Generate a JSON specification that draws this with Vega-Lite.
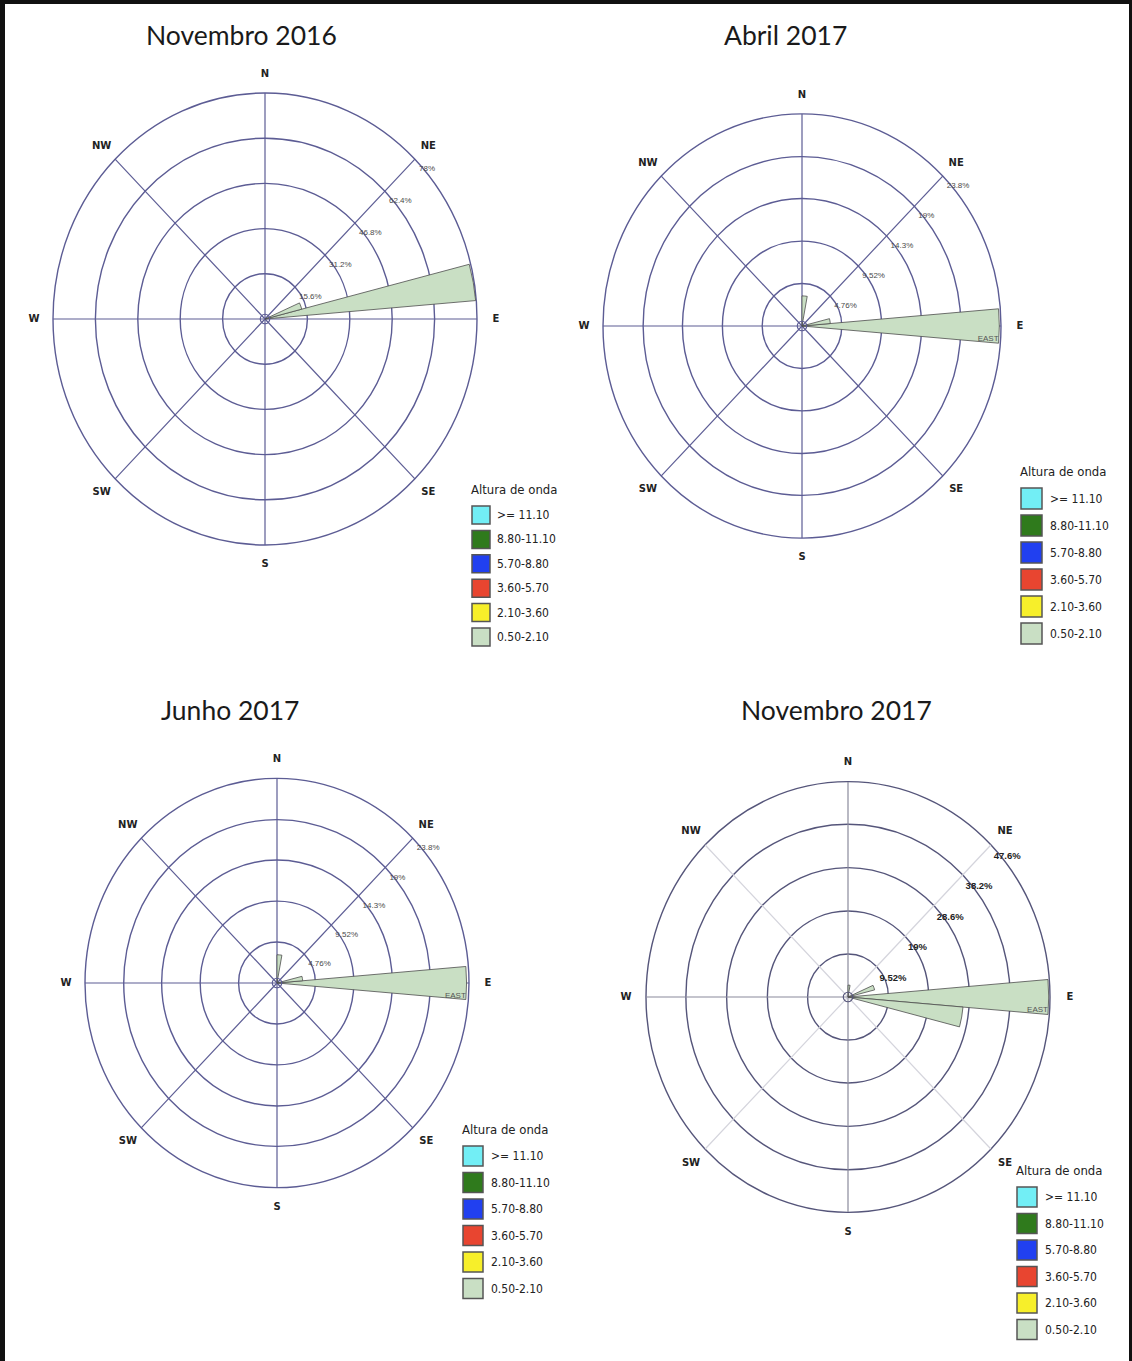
{
  "$schema": "https://vega.github.io/schema/vega-lite/v6.json",
  "background": "#111111",
  "padding": {"left": 5, "top": 4, "right": 3, "bottom": 0},
  "bounds": "flush",
  "spacing": 0,
  "columns": 2,
  "config": {
    "view": {"fill": "white", "stroke": null},
    "axis": {"disable": true}
  },
  "resolve": {
    "scale": {"color": "independent", "size": "independent", "theta": "independent", "radius": "independent"},
    "legend": {"color": "independent"}
  },
  "datasets": {
    "rosa": [
      {"dir": "N", "graus": 0, "ex": 0, "ey": 1},
      {"dir": "NE", "graus": 45, "ex": 0.7071, "ey": 0.7071},
      {"dir": "E", "graus": 90, "ex": 1, "ey": 0},
      {"dir": "SE", "graus": 135, "ex": 0.7071, "ey": -0.7071},
      {"dir": "S", "graus": 180, "ex": 0, "ey": -1},
      {"dir": "SW", "graus": 225, "ex": -0.7071, "ey": -0.7071},
      {"dir": "W", "graus": 270, "ex": -1, "ey": 0},
      {"dir": "NW", "graus": 315, "ex": -0.7071, "ey": 0.7071}
    ],
    "aneis_nov16": [
      {"anel": 15.6, "rotulo": "15.6%"},
      {"anel": 31.2, "rotulo": "31.2%"},
      {"anel": 46.8, "rotulo": "46.8%"},
      {"anel": 62.4, "rotulo": "62.4%"},
      {"anel": 78, "rotulo": "78%"}
    ],
    "aneis_abr_jun17": [
      {"anel": 4.76, "rotulo": "4.76%"},
      {"anel": 9.52, "rotulo": "9.52%"},
      {"anel": 14.3, "rotulo": "14.3%"},
      {"anel": 19, "rotulo": "19%"},
      {"anel": 23.8, "rotulo": "23.8%"}
    ],
    "aneis_nov17": [
      {"anel": 9.52, "rotulo": "9.52%"},
      {"anel": 19, "rotulo": "19%"},
      {"anel": 28.6, "rotulo": "28.6%"},
      {"anel": 38.2, "rotulo": "38.2%"},
      {"anel": 47.6, "rotulo": "47.6%"}
    ],
    "ondas_nov16": [
      {"de": 75, "ate": 85, "pct": 77.8, "classe": "0.50-2.10"},
      {"de": 65, "ate": 75, "pct": 14, "classe": "0.50-2.10"}
    ],
    "ondas_abr17": [
      {"de": 85, "ate": 95, "pct": 23.6, "classe": "0.50-2.10", "nome": "EAST"},
      {"de": 0, "ate": 10, "pct": 3.6, "classe": "0.50-2.10"},
      {"de": 75, "ate": 85, "pct": 3.4, "classe": "0.50-2.10"}
    ],
    "ondas_jun17": [
      {"de": 85, "ate": 95, "pct": 23.5, "classe": "0.50-2.10", "nome": "EAST"},
      {"de": 0, "ate": 10, "pct": 3.5, "classe": "0.50-2.10"},
      {"de": 75, "ate": 85, "pct": 3.2, "classe": "0.50-2.10"}
    ],
    "ondas_nov17": [
      {"de": 85, "ate": 95, "pct": 47.3, "classe": "0.50-2.10", "nome": "EAST"},
      {"de": 95, "ate": 105, "pct": 27.2, "classe": "0.50-2.10"},
      {"de": 65, "ate": 75, "pct": 6.5, "classe": "0.50-2.10"},
      {"de": 0, "ate": 10, "pct": 2.8, "classe": "0.50-2.10"}
    ]
  },
  "concat": [
    {
      "width": 563,
      "height": 676,
      "title": {"text": "Novembro 2016", "anchor": "start", "frame": "group", "offset": 0, "dx": 141, "dy": 67, "baseline": "alphabetic", "font": "Lato", "fontSize": 26.5, "fontWeight": "normal", "color": "#1a1a1a"},
      "resolve": {"scale": {"radius": "independent"}},
      "layer": [
        {
          "data": {"name": "aneis_nov16"},
          "mark": {"type": "point", "shape": "M1,0C1,0.5888,0.5523,1.066,0,1.066C-0.5523,1.066,-1,0.5888,-1,0C-1,-0.5888,-0.5523,-1.066,0,-1.066C0.5523,-1.066,1,-0.5888,1,0Z", "filled": false, "stroke": "#5c5c94", "strokeWidth": 1.4, "opacity": 1},
          "encoding": {
            "x": {"datum": 0, "type": "quantitative", "scale": {"domain": [-1, 1], "range": [48, 472], "nice": false, "zero": false}, "axis": null},
            "y": {"datum": 0, "type": "quantitative", "scale": {"domain": [-1, 1], "range": [541, 89], "nice": false, "zero": false}, "axis": null},
            "size": {"field": "anel", "type": "quantitative", "scale": {"type": "pow", "exponent": 2, "domain": [0, 78], "range": [0, 179776]}, "legend": null}
          }
        },
        {
          "data": {"name": "rosa"},
          "mark": {"type": "rule", "stroke": "#5c5c94", "strokeWidth": 1.2},
          "encoding": {
            "x": {"field": "ex", "type": "quantitative"},
            "y": {"field": "ey", "type": "quantitative"},
            "x2": {"datum": 0},
            "y2": {"datum": 0}
          }
        },
        {
          "data": {"name": "ondas_nov16"},
          "mark": {"type": "arc", "stroke": "#4d4d4d", "strokeWidth": 0.8},
          "encoding": {
            "x": {"datum": 0, "type": "quantitative"},
            "y": {"datum": 0, "type": "quantitative"},
            "theta": {"field": "de", "type": "quantitative", "stack": null, "scale": {"domain": [0, 360], "range": [0, 6.283185307]}},
            "theta2": {"field": "ate"},
            "radius": {"field": "pct", "type": "quantitative", "scale": {"type": "linear", "zero": true, "domain": [0, 78], "range": [0, 212]}},
            "color": {
              "field": "classe", "type": "nominal",
              "scale": {"domain": [">=  11.10", "8.80-11.10", "5.70-8.80", "3.60-5.70", "2.10-3.60", "0.50-2.10"], "range": ["#72eef5", "#2f7a1c", "#2140f0", "#e84530", "#f7ef2a", "#c9dfc4"]},
              "legend": {"orient": "none", "legendX": 466, "legendY": 480, "title": "Altura de onda", "titleFont": "Liberation Sans Narrow, DejaVu Sans Condensed, sans-serif", "titleFontSize": 13, "titleFontWeight": "normal", "titleColor": "#222", "titlePadding": 8, "titleLimit": 300, "symbolType": "square", "symbolSize": 324, "symbolStrokeColor": "#555", "symbolStrokeWidth": 1.5, "labelFont": "Liberation Sans Narrow, DejaVu Sans Condensed, sans-serif", "labelFontSize": 12, "labelColor": "#222", "labelOffset": 6, "rowPadding": 0.4, "padding": 0}
            }
          }
        },
        {
          "data": {"values": [{"calmo": 0}]},
          "mark": {"type": "point", "shape": "circle", "filled": false, "size": 90, "stroke": "#5c5c94", "strokeWidth": 1.2, "opacity": 1},
          "encoding": {"x": {"datum": 0, "type": "quantitative"}, "y": {"datum": 0, "type": "quantitative"}}
        },
        {
          "data": {"name": "rosa"},
          "mark": {"type": "text", "radius": 19, "font": "DejaVu Sans", "fontSize": 10, "fontWeight": "bold", "fill": "#222"},
          "encoding": {
            "x": {"field": "ex", "type": "quantitative"},
            "y": {"field": "ey", "type": "quantitative"},
            "theta": {"field": "graus", "type": "quantitative", "scale": {"domain": [0, 360], "range": [0, 6.283185307]}},
            "text": {"field": "dir"}
          }
        },
        {
          "data": {"name": "aneis_nov16"},
          "mark": {"type": "text", "align": "left", "baseline": "middle", "dx": 4, "dy": 10, "font": "Liberation Sans", "fontSize": 8, "fill": "#4a4a4a"},
          "encoding": {
            "x": {"datum": 0, "type": "quantitative"},
            "y": {"datum": 0, "type": "quantitative"},
            "theta": {"datum": 43.2, "type": "quantitative", "scale": {"domain": [0, 360], "range": [0, 6.283185307]}},
            "radius": {"field": "anel", "type": "quantitative", "scale": {"type": "linear", "zero": true, "domain": [0, 78], "range": [0, 219.1]}},
            "text": {"field": "rotulo"}
          }
        }
      ]
    },
    {
      "width": 561,
      "height": 676,
      "title": {"text": "Abril 2017", "anchor": "start", "frame": "group", "offset": 0, "dx": 156, "dy": 67, "baseline": "alphabetic", "font": "Lato", "fontSize": 26.5, "fontWeight": "normal", "color": "#1a1a1a"},
      "resolve": {"scale": {"radius": "independent"}},
      "layer": [
        {
          "data": {"name": "aneis_abr_jun17"},
          "mark": {"type": "point", "shape": "M1,0C1,0.5888,0.5523,1.066,0,1.066C-0.5523,1.066,-1,0.5888,-1,0C-1,-0.5888,-0.5523,-1.066,0,-1.066C0.5523,-1.066,1,-0.5888,1,0Z", "filled": false, "stroke": "#5c5c94", "strokeWidth": 1.4, "opacity": 1},
          "encoding": {
            "x": {"datum": 0, "type": "quantitative", "scale": {"domain": [-1, 1], "range": [35, 433], "nice": false, "zero": false}, "axis": null},
            "y": {"datum": 0, "type": "quantitative", "scale": {"domain": [-1, 1], "range": [534, 110], "nice": false, "zero": false}, "axis": null},
            "size": {"field": "anel", "type": "quantitative", "scale": {"type": "pow", "exponent": 2, "domain": [0, 23.8], "range": [0, 158404]}, "legend": null}
          }
        },
        {
          "data": {"name": "rosa"},
          "mark": {"type": "rule", "stroke": "#5c5c94", "strokeWidth": 1.2},
          "encoding": {
            "x": {"field": "ex", "type": "quantitative"},
            "y": {"field": "ey", "type": "quantitative"},
            "x2": {"datum": 0},
            "y2": {"datum": 0}
          }
        },
        {
          "data": {"name": "ondas_abr17"},
          "mark": {"type": "arc", "stroke": "#4d4d4d", "strokeWidth": 0.8},
          "encoding": {
            "x": {"datum": 0, "type": "quantitative"},
            "y": {"datum": 0, "type": "quantitative"},
            "theta": {"field": "de", "type": "quantitative", "stack": null, "scale": {"domain": [0, 360], "range": [0, 6.283185307]}},
            "theta2": {"field": "ate"},
            "radius": {"field": "pct", "type": "quantitative", "scale": {"type": "linear", "zero": true, "domain": [0, 23.8], "range": [0, 199]}},
            "color": {
              "field": "classe", "type": "nominal",
              "scale": {"domain": [">=  11.10", "8.80-11.10", "5.70-8.80", "3.60-5.70", "2.10-3.60", "0.50-2.10"], "range": ["#72eef5", "#2f7a1c", "#2140f0", "#e84530", "#f7ef2a", "#c9dfc4"]},
              "legend": {"orient": "none", "legendX": 452, "legendY": 462, "title": "Altura de onda", "titleFont": "Liberation Sans Narrow, DejaVu Sans Condensed, sans-serif", "titleFontSize": 13, "titleFontWeight": "normal", "titleColor": "#222", "titlePadding": 8, "titleLimit": 300, "symbolType": "square", "symbolSize": 441, "symbolStrokeColor": "#555", "symbolStrokeWidth": 1.5, "labelFont": "Liberation Sans Narrow, DejaVu Sans Condensed, sans-serif", "labelFontSize": 12, "labelColor": "#222", "labelOffset": 7, "rowPadding": 0, "padding": 0}
            }
          }
        },
        {
          "data": {"name": "ondas_abr17"},
          "transform": [{"filter": "datum.nome != null"}],
          "mark": {"type": "text", "align": "right", "baseline": "bottom", "font": "Liberation Sans", "fontSize": 8, "fill": "#555"},
          "encoding": {
            "x": {"datum": 0, "type": "quantitative"},
            "y": {"datum": 0, "type": "quantitative"},
            "theta": {"field": "ate", "type": "quantitative", "scale": {"domain": [0, 360], "range": [0, 6.283185307]}},
            "radius": {"field": "pct", "type": "quantitative", "scale": {"type": "linear", "zero": true, "domain": [0, 23.8], "range": [0, 199]}},
            "text": {"field": "nome"}
          }
        },
        {
          "data": {"values": [{"calmo": 0}]},
          "mark": {"type": "point", "shape": "circle", "filled": false, "size": 90, "stroke": "#5c5c94", "strokeWidth": 1.2, "opacity": 1},
          "encoding": {"x": {"datum": 0, "type": "quantitative"}, "y": {"datum": 0, "type": "quantitative"}}
        },
        {
          "data": {"name": "rosa"},
          "mark": {"type": "text", "radius": 19, "font": "DejaVu Sans", "fontSize": 10, "fontWeight": "bold", "fill": "#222"},
          "encoding": {
            "x": {"field": "ex", "type": "quantitative"},
            "y": {"field": "ey", "type": "quantitative"},
            "theta": {"field": "graus", "type": "quantitative", "scale": {"domain": [0, 360], "range": [0, 6.283185307]}},
            "text": {"field": "dir"}
          }
        },
        {
          "data": {"name": "aneis_abr_jun17"},
          "mark": {"type": "text", "align": "left", "baseline": "middle", "dx": 4, "dy": 10, "font": "Liberation Sans", "fontSize": 8, "fill": "#4a4a4a"},
          "encoding": {
            "x": {"datum": 0, "type": "quantitative"},
            "y": {"datum": 0, "type": "quantitative"},
            "theta": {"datum": 43.2, "type": "quantitative", "scale": {"domain": [0, 360], "range": [0, 6.283185307]}},
            "radius": {"field": "anel", "type": "quantitative", "scale": {"type": "linear", "zero": true, "domain": [0, 23.8], "range": [0, 205.6]}},
            "text": {"field": "rotulo"}
          }
        }
      ]
    },
    {
      "width": 563,
      "height": 681,
      "title": {"text": "Junho 2017", "anchor": "start", "frame": "group", "offset": 0, "dx": 156, "dy": 66, "baseline": "alphabetic", "font": "Lato", "fontSize": 26.5, "fontWeight": "normal", "color": "#1a1a1a"},
      "resolve": {"scale": {"radius": "independent"}},
      "layer": [
        {
          "data": {"name": "aneis_abr_jun17"},
          "mark": {"type": "point", "shape": "M1,0C1,0.5888,0.5523,1.066,0,1.066C-0.5523,1.066,-1,0.5888,-1,0C-1,-0.5888,-0.5523,-1.066,0,-1.066C0.5523,-1.066,1,-0.5888,1,0Z", "filled": false, "stroke": "#5c5c94", "strokeWidth": 1.4, "opacity": 1},
          "encoding": {
            "x": {"datum": 0, "type": "quantitative", "scale": {"domain": [-1, 1], "range": [80, 464], "nice": false, "zero": false}, "axis": null},
            "y": {"datum": 0, "type": "quantitative", "scale": {"domain": [-1, 1], "range": [508, 98], "nice": false, "zero": false}, "axis": null},
            "size": {"field": "anel", "type": "quantitative", "scale": {"type": "pow", "exponent": 2, "domain": [0, 23.8], "range": [0, 147456]}, "legend": null}
          }
        },
        {
          "data": {"name": "rosa"},
          "mark": {"type": "rule", "stroke": "#5c5c94", "strokeWidth": 1.2},
          "encoding": {
            "x": {"field": "ex", "type": "quantitative"},
            "y": {"field": "ey", "type": "quantitative"},
            "x2": {"datum": 0},
            "y2": {"datum": 0}
          }
        },
        {
          "data": {"name": "ondas_jun17"},
          "mark": {"type": "arc", "stroke": "#4d4d4d", "strokeWidth": 0.8},
          "encoding": {
            "x": {"datum": 0, "type": "quantitative"},
            "y": {"datum": 0, "type": "quantitative"},
            "theta": {"field": "de", "type": "quantitative", "stack": null, "scale": {"domain": [0, 360], "range": [0, 6.283185307]}},
            "theta2": {"field": "ate"},
            "radius": {"field": "pct", "type": "quantitative", "scale": {"type": "linear", "zero": true, "domain": [0, 23.8], "range": [0, 192]}},
            "color": {
              "field": "classe", "type": "nominal",
              "scale": {"domain": [">=  11.10", "8.80-11.10", "5.70-8.80", "3.60-5.70", "2.10-3.60", "0.50-2.10"], "range": ["#72eef5", "#2f7a1c", "#2140f0", "#e84530", "#f7ef2a", "#c9dfc4"]},
              "legend": {"orient": "none", "legendX": 457, "legendY": 444, "title": "Altura de onda", "titleFont": "Liberation Sans Narrow, DejaVu Sans Condensed, sans-serif", "titleFontSize": 13, "titleFontWeight": "normal", "titleColor": "#222", "titlePadding": 8, "titleLimit": 300, "symbolType": "square", "symbolSize": 400, "symbolStrokeColor": "#555", "symbolStrokeWidth": 1.5, "labelFont": "Liberation Sans Narrow, DejaVu Sans Condensed, sans-serif", "labelFontSize": 12, "labelColor": "#222", "labelOffset": 7, "rowPadding": 0.5, "padding": 0}
            }
          }
        },
        {
          "data": {"name": "ondas_jun17"},
          "transform": [{"filter": "datum.nome != null"}],
          "mark": {"type": "text", "align": "right", "baseline": "bottom", "font": "Liberation Sans", "fontSize": 8, "fill": "#555"},
          "encoding": {
            "x": {"datum": 0, "type": "quantitative"},
            "y": {"datum": 0, "type": "quantitative"},
            "theta": {"field": "ate", "type": "quantitative", "scale": {"domain": [0, 360], "range": [0, 6.283185307]}},
            "radius": {"field": "pct", "type": "quantitative", "scale": {"type": "linear", "zero": true, "domain": [0, 23.8], "range": [0, 192]}},
            "text": {"field": "nome"}
          }
        },
        {
          "data": {"values": [{"calmo": 0}]},
          "mark": {"type": "point", "shape": "circle", "filled": false, "size": 90, "stroke": "#5c5c94", "strokeWidth": 1.2, "opacity": 1},
          "encoding": {"x": {"datum": 0, "type": "quantitative"}, "y": {"datum": 0, "type": "quantitative"}}
        },
        {
          "data": {"name": "rosa"},
          "mark": {"type": "text", "radius": 19, "font": "DejaVu Sans", "fontSize": 10, "fontWeight": "bold", "fill": "#222"},
          "encoding": {
            "x": {"field": "ex", "type": "quantitative"},
            "y": {"field": "ey", "type": "quantitative"},
            "theta": {"field": "graus", "type": "quantitative", "scale": {"domain": [0, 360], "range": [0, 6.283185307]}},
            "text": {"field": "dir"}
          }
        },
        {
          "data": {"name": "aneis_abr_jun17"},
          "mark": {"type": "text", "align": "left", "baseline": "middle", "dx": 4, "dy": 10, "font": "Liberation Sans", "fontSize": 8, "fill": "#4a4a4a"},
          "encoding": {
            "x": {"datum": 0, "type": "quantitative"},
            "y": {"datum": 0, "type": "quantitative"},
            "theta": {"datum": 43.2, "type": "quantitative", "scale": {"domain": [0, 360], "range": [0, 6.283185307]}},
            "radius": {"field": "anel", "type": "quantitative", "scale": {"type": "linear", "zero": true, "domain": [0, 23.8], "range": [0, 198.4]}},
            "text": {"field": "rotulo"}
          }
        }
      ]
    },
    {
      "width": 561,
      "height": 681,
      "title": {"text": "Novembro 2017", "anchor": "start", "frame": "group", "offset": 0, "dx": 173, "dy": 66, "baseline": "alphabetic", "font": "Lato", "fontSize": 26.5, "fontWeight": "normal", "color": "#1a1a1a"},
      "resolve": {"scale": {"radius": "independent"}},
      "layer": [
        {
          "data": {"name": "aneis_nov17"},
          "mark": {"type": "point", "shape": "M1,0C1,0.5888,0.5523,1.066,0,1.066C-0.5523,1.066,-1,0.5888,-1,0C-1,-0.5888,-0.5523,-1.066,0,-1.066C0.5523,-1.066,1,-0.5888,1,0Z", "filled": false, "stroke": "#55557a", "strokeWidth": 1.4, "opacity": 1},
          "encoding": {
            "x": {"datum": 0, "type": "quantitative", "scale": {"domain": [-1, 1], "range": [78, 482], "nice": false, "zero": false}, "axis": null},
            "y": {"datum": 0, "type": "quantitative", "scale": {"domain": [-1, 1], "range": [532, 102], "nice": false, "zero": false}, "axis": null},
            "size": {"field": "anel", "type": "quantitative", "scale": {"type": "pow", "exponent": 2, "domain": [0, 47.6], "range": [0, 163216]}, "legend": null}
          }
        },
        {
          "data": {"name": "rosa"},
          "transform": [{"filter": "datum.graus % 90 != 0"}],
          "mark": {"type": "rule", "stroke": "#d4d4dc", "strokeWidth": 1.2},
          "encoding": {
            "x": {"field": "ex", "type": "quantitative"},
            "y": {"field": "ey", "type": "quantitative"},
            "x2": {"datum": 0},
            "y2": {"datum": 0}
          }
        },
        {
          "data": {"name": "rosa"},
          "transform": [{"filter": "datum.graus % 90 == 0"}],
          "mark": {"type": "rule", "stroke": "#8a8a9c", "strokeWidth": 1.2},
          "encoding": {
            "x": {"field": "ex", "type": "quantitative"},
            "y": {"field": "ey", "type": "quantitative"},
            "x2": {"datum": 0},
            "y2": {"datum": 0}
          }
        },
        {
          "data": {"name": "ondas_nov17"},
          "mark": {"type": "arc", "stroke": "#4d4d4d", "strokeWidth": 0.8},
          "encoding": {
            "x": {"datum": 0, "type": "quantitative"},
            "y": {"datum": 0, "type": "quantitative"},
            "theta": {"field": "de", "type": "quantitative", "stack": null, "scale": {"domain": [0, 360], "range": [0, 6.283185307]}},
            "theta2": {"field": "ate"},
            "radius": {"field": "pct", "type": "quantitative", "scale": {"type": "linear", "zero": true, "domain": [0, 47.6], "range": [0, 202]}},
            "color": {
              "field": "classe", "type": "nominal",
              "scale": {"domain": [">=  11.10", "8.80-11.10", "5.70-8.80", "3.60-5.70", "2.10-3.60", "0.50-2.10"], "range": ["#72eef5", "#2f7a1c", "#2140f0", "#e84530", "#f7ef2a", "#c9dfc4"]},
              "legend": {"orient": "none", "legendX": 448, "legendY": 485, "title": "Altura de onda", "titleFont": "Liberation Sans Narrow, DejaVu Sans Condensed, sans-serif", "titleFontSize": 13, "titleFontWeight": "normal", "titleColor": "#222", "titlePadding": 8, "titleLimit": 300, "symbolType": "square", "symbolSize": 400, "symbolStrokeColor": "#555", "symbolStrokeWidth": 1.5, "labelFont": "Liberation Sans Narrow, DejaVu Sans Condensed, sans-serif", "labelFontSize": 12, "labelColor": "#222", "labelOffset": 7, "rowPadding": 0.5, "padding": 0}
            }
          }
        },
        {
          "data": {"name": "ondas_nov17"},
          "transform": [{"filter": "datum.nome != null"}],
          "mark": {"type": "text", "align": "right", "baseline": "bottom", "font": "Liberation Sans", "fontSize": 8, "fill": "#555"},
          "encoding": {
            "x": {"datum": 0, "type": "quantitative"},
            "y": {"datum": 0, "type": "quantitative"},
            "theta": {"field": "ate", "type": "quantitative", "scale": {"domain": [0, 360], "range": [0, 6.283185307]}},
            "radius": {"field": "pct", "type": "quantitative", "scale": {"type": "linear", "zero": true, "domain": [0, 47.6], "range": [0, 202]}},
            "text": {"field": "nome"}
          }
        },
        {
          "data": {"values": [{"calmo": 0}]},
          "mark": {"type": "point", "shape": "circle", "filled": false, "size": 90, "stroke": "#55557a", "strokeWidth": 1.2, "opacity": 1},
          "encoding": {"x": {"datum": 0, "type": "quantitative"}, "y": {"datum": 0, "type": "quantitative"}}
        },
        {
          "data": {"name": "rosa"},
          "mark": {"type": "text", "radius": 20, "font": "DejaVu Sans", "fontSize": 10, "fontWeight": "bold", "fill": "#222"},
          "encoding": {
            "x": {"field": "ex", "type": "quantitative"},
            "y": {"field": "ey", "type": "quantitative"},
            "theta": {"field": "graus", "type": "quantitative", "scale": {"domain": [0, 360], "range": [0, 6.283185307]}},
            "text": {"field": "dir"}
          }
        },
        {
          "data": {"name": "aneis_nov17"},
          "mark": {"type": "text", "align": "left", "baseline": "middle", "dx": 3, "dy": 11, "font": "Liberation Sans", "fontSize": 9.5, "fontWeight": "bold", "fill": "#222"},
          "encoding": {
            "x": {"datum": 0, "type": "quantitative"},
            "y": {"datum": 0, "type": "quantitative"},
            "theta": {"datum": 43.2, "type": "quantitative", "scale": {"domain": [0, 360], "range": [0, 6.283185307]}},
            "radius": {"field": "anel", "type": "quantitative", "scale": {"type": "linear", "zero": true, "domain": [0, 47.6], "range": [0, 208.6]}},
            "text": {"field": "rotulo"}
          }
        }
      ]
    }
  ]
}
